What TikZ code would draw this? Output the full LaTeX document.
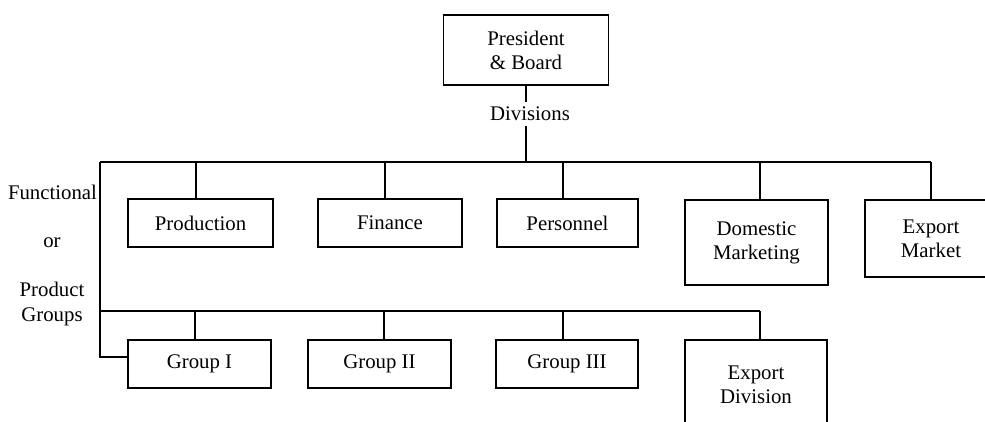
\documentclass[tikz,border=0pt]{standalone}
\usepackage{fontspec}
\setmainfont{Liberation Serif}
\begin{document}
\begin{tikzpicture}[x=1pt,y=-1pt,
  unitbox/.style={draw, line width=1.6pt, inner sep=0pt, align=center,
    font=\fontsize{20.8}{24}\selectfont},
  lbl/.style={inner sep=0pt, align=center, font=\fontsize{20.8}{25}\selectfont},
  link/.style={line width=1.6pt}]
\useasboundingbox (0,0) rectangle (985,421);
\clip (0,0) rectangle (985,421);

% top of the hierarchy
\node[unitbox, minimum width=165pt, minimum height=70pt] (pres) at (526,50) {President\\\& Board};
\node[lbl, inner sep=5pt] (div) at (530,114) {Divisions};
\coordinate (hub) at (526,162);

% functional divisions
\node[unitbox, minimum width=145pt, minimum height=48pt] (prod) at (200.5,223) {Production};
\node[unitbox, minimum width=144pt, minimum height=48pt] (fin)  at (390,223) {Finance};
\node[unitbox, minimum width=141pt, minimum height=48pt] (pers) at (567.5,223) {Personnel};
\node[unitbox, minimum width=143pt, minimum height=85pt] (dom)  at (756.5,242.5) {Domestic\\Marketing};
\node[unitbox, minimum width=132pt, minimum height=77pt] (expm) at (931,238.5) {Export\\Market};

% product groups
\node[unitbox, minimum width=143pt, minimum height=48pt] (g1) at (199.5,364) {Group I};
\node[unitbox, minimum width=143pt, minimum height=48pt] (g2) at (379.5,364) {Group II};
\node[unitbox, minimum width=142pt, minimum height=48pt] (g3) at (567,364) {Group III};
\node[unitbox, minimum width=142pt, minimum height=90pt] (expd) at (756,385) {Export\\Division};

% side labels
\node[lbl] (func) at (52.5,192) {Functional};
\node[lbl] (orl)  at (52,243) {or};
\node[lbl] (pgrp) at (52,304) {Product\\Groups};

% buses
\coordinate (busL) at (100,162);
\coordinate (busR) at (931,162);
\coordinate (bus2L) at (100,311);
\coordinate (bus2R) at (760,311);
\coordinate (corner) at (100,357);

\draw[link] (pres.south -| hub) -- (div.north -| hub);
\draw[link] (div.south -| hub) -- (hub);
\draw[link] (busL) -- (busR);
\draw[link] (busL) -- (corner) -- (corner -| g1.west);
\draw[link] (bus2L) -- (bus2R);

% drops from the upper bus
\coordinate (t1) at (196,162);
\coordinate (t2) at (385,162);
\coordinate (t3) at (563,162);
\coordinate (t4) at (760,162);
\draw[link] (t1) -- (t1 |- prod.north);
\draw[link] (t2) -- (t2 |- fin.north);
\draw[link] (t3) -- (t3 |- pers.north);
\draw[link] (t4) -- (t4 |- dom.north);
\draw[link] (busR) -- (expm.north);

% drops from the lower bus
\coordinate (b1) at (195,311);
\coordinate (b2) at (384,311);
\coordinate (b3) at (563,311);
\draw[link] (b1) -- (b1 |- g1.north);
\draw[link] (b2) -- (b2 |- g2.north);
\draw[link] (b3) -- (b3 |- g3.north);
\draw[link] (bus2R) -- (bus2R |- expd.north);
\end{tikzpicture}
\end{document}
